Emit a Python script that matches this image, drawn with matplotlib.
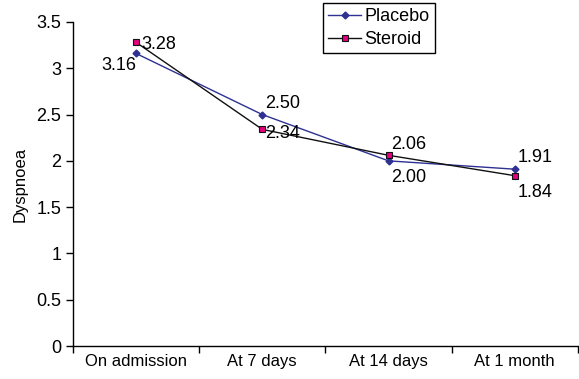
import matplotlib
matplotlib.use("Agg")
import matplotlib.pyplot as plt
import numpy as np

plt.rcParams['font.family'] = ['Liberation Sans', 'DejaVu Sans']

categories = ["On admission", "At 7 days", "At 14 days", "At 1 month"]
placebo = [3.16, 2.50, 2.00, 1.91]
steroid = [3.28, 2.34, 2.06, 1.84]

fig = plt.figure(figsize=(5.79, 3.79), dpi=100)
ax = fig.add_axes([0.126, 0.087, 0.872, 0.855])

x = np.arange(len(categories))
ax.plot(x, placebo, color='#2e3192', lw=1, marker='D', ms=3.5,
        mfc='#2e3192', mec='#2e3192', label='Placebo')
ax.plot(x, steroid, color='#111111', lw=1, marker='s', ms=4.5,
        mfc='#e4007c', mec='#111111', mew=0.8, label='Steroid')

# value labels
p_off = [(-25, -9), (2, 2), (2, -18), (2, 2)]
s_off = [(4, -8), (2, -9), (2, 2), (2, -18)]
for i, v in enumerate(placebo):
    ax.annotate(f"{v:.2f}", (x[i], v), xytext=p_off[i], textcoords='offset points',
                fontsize=13, va='center' if i == 0 else 'bottom')
for i, v in enumerate(steroid):
    ax.annotate(f"{v:.2f}", (x[i], v), xytext=s_off[i], textcoords='offset points',
                fontsize=13, va='bottom')

ax.set_xlim(-0.5, 3.5)
ax.set_ylim(0, 3.5)
ax.set_yticks(np.arange(0, 3.51, 0.5))
ax.set_yticklabels(['0', '0.5', '1', '1.5', '2', '2.5', '3', '3.5'])
ax.set_xticks(x)
ax.set_xticklabels(categories)
ax.set_xticks(np.arange(-0.5, 3.6, 1), minor=True)
ax.tick_params(axis='x', which='major', length=0, labelsize=12, pad=6)
ax.tick_params(axis='x', which='minor', length=5, width=1, direction='out')
ax.tick_params(axis='y', length=5, width=1, direction='out', labelsize=13)
ax.set_ylabel('Dyspnoea', fontsize=12, labelpad=6)

for s in ['top', 'right']:
    ax.spines[s].set_visible(False)
for s in ['left', 'bottom']:
    ax.spines[s].set_linewidth(1)

fig.legend(loc='upper left', bbox_to_anchor=(0.558, 0.992), fontsize=13,
           frameon=True, fancybox=False, edgecolor='black', framealpha=1,
           handlelength=1.8, handletextpad=0.2, borderpad=0.3, labelspacing=0.3,
           borderaxespad=0)

fig.savefig("out.png", dpi=100)
